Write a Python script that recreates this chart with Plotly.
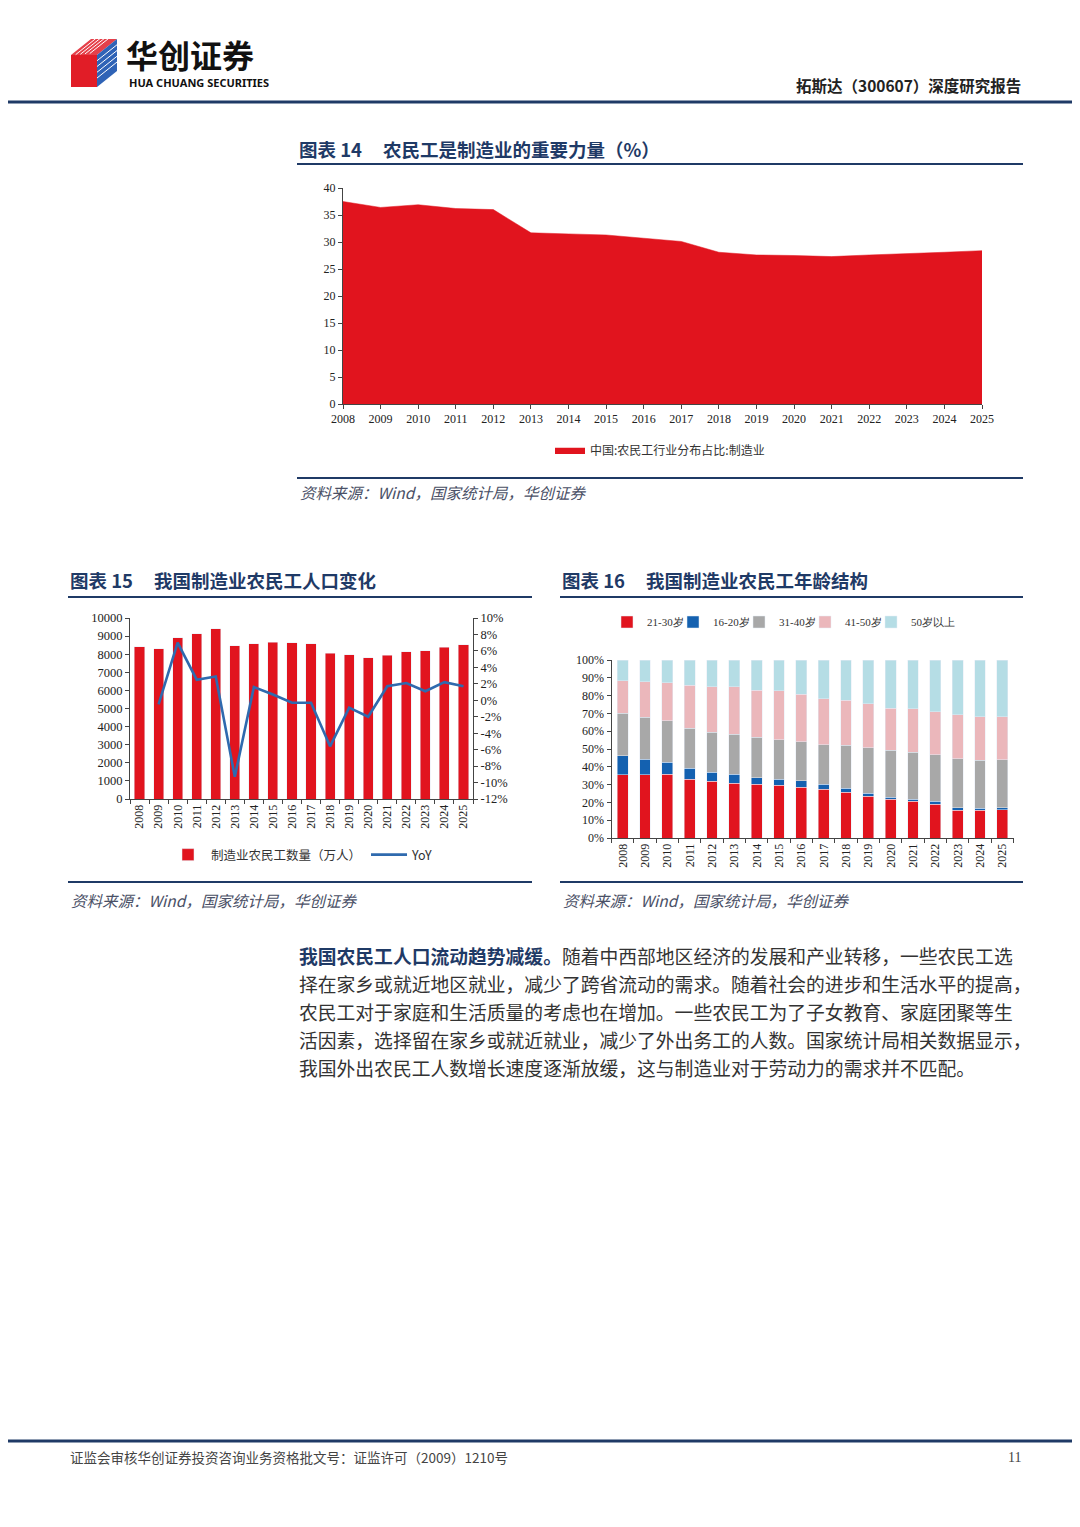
import plotly.graph_objects as go

# 页面在浏览器中有 8px 的 body 边距，图形尺寸相应缩小
OFF = 8
W, H = 1080 - 2 * OFF, 1527 - 2 * OFF

RED = "#E1141E"
NAVY = "#1F3A66"
CJK = "Noto Sans CJK SC"
SERIF = "Liberation Serif"
NB = "\u00a0"

years = [str(y) for y in range(2008, 2026)]
years_num = list(range(2008, 2026))

# 图表14 中国:农民工行业分布占比:制造业 (%)
share_mfg = [37.5, 36.4, 36.9, 36.2, 36.0, 31.7, 31.5, 31.3, 30.7, 30.1,
             28.1, 27.6, 27.5, 27.3, 27.6, 27.8, 28.1, 28.4]

# 图表15 制造业农民工数量(万人) 与 YoY(%)
workers = [8420, 8310, 8920, 9130, 9410, 8460, 8590, 8660, 8630, 8590,
           8050, 7980, 7810, 7940, 8130, 8200, 8390, 8520]
yoy = [None, -0.5, 7.0, 2.5, 2.9, -9.3, 1.6, 0.7, -0.3, -0.3,
       -5.6, -0.9, -2.0, 1.7, 2.1, 1.1, 2.2, 1.7]
yoy_ticks = [-12, -10, -8, -6, -4, -2, 0, 2, 4, 6, 8, 10]
yoy_labels = ["-12%", "-10%", "-8%", "-6%", "-4%", "-2%", "0%", "2%", "4%", "6%", "8%", "10%"]

# 图表16 年龄结构 (%)
age_21_30 = [35.5, 35.5, 35.9, 32.9, 32.0, 30.7, 30.3, 29.5, 28.6, 27.5,
             25.8, 23.4, 21.9, 20.7, 19.1, 15.5, 15.5, 15.9]
age_16_20 = [10.7, 8.8, 6.7, 6.2, 5.0, 5.0, 3.5, 3.6, 3.5, 2.8,
             2.2, 1.8, 1.1, 1.2, 1.5, 1.5, 1.3, 1.1]
age_31_40 = [23.9, 23.6, 23.2, 22.6, 22.3, 22.6, 22.8, 22.0, 21.9, 22.0,
             24.1, 25.6, 26.3, 26.3, 26.3, 27.5, 26.9, 27.1]
age_41_50 = [18.3, 20.0, 21.5, 24.1, 25.7, 26.6, 26.4, 27.5, 26.7, 26.0,
             25.3, 24.5, 23.6, 24.3, 24.1, 24.8, 24.5, 24.1]
age_50_up = [11.6, 12.1, 12.7, 14.2, 15.0, 15.1, 17.0, 17.4, 19.3, 21.7,
             22.6, 24.7, 27.1, 27.5, 29.0, 30.7, 31.8, 31.8]

age_names = ["21-30岁", "16-20岁", "31-40岁", "41-50岁", "50岁以上"]
age_colors = [RED, "#1461B0", "#A8A8A8", "#EBB7BB", "#B5DDE5"]

paragraph = [
    "<b><span style='color:#1F3A66'>我国农民工人口流动趋势减缓。</span></b>随着中西部地区经济的发展和产业转移，一些农民工选",
    "择在家乡或就近地区就业，减少了跨省流动的需求。随着社会的进步和生活水平的提高，",
    "农民工对于家庭和生活质量的考虑也在增加。一些农民工为了子女教育、家庭团聚等生",
    "活因素，选择留在家乡或就近就业，减少了外出务工的人数。国家统计局相关数据显示，",
    "我国外出农民工人数增长速度逐渐放缓，这与制造业对于劳动力的需求并不匹配。",
]
source = "<i>资料来源：Wind，国家统计局，华创证券</i>"


def px(x):
    return (x - OFF) / W


def py(y):
    return 1 - (y - OFF) / H


def path(points):
    pts = [f"{px(x):.5f},{py(y):.5f}" for x, y in points]
    return "M " + " L ".join(pts) + " Z"


fig = go.Figure()

# 图表14 面积图
fig.add_trace(go.Scatter(
    x=years_num, y=share_mfg, mode="lines", fill="tozeroy",
    line=dict(color=RED, width=0.5), fillcolor=RED,
    name="中国:农民工行业分布占比:制造业", legend="legend",
    xaxis="x", yaxis="y"))

# 图表15 柱+线
fig.add_trace(go.Bar(
    x=years, y=workers, marker_color=RED, width=0.53,
    name="制造业农民工数量（万人）", legend="legend2",
    xaxis="x2", yaxis="y2"))
fig.add_trace(go.Scatter(
    x=years, y=yoy, mode="lines", line=dict(color="#2F6AAE", width=2.6),
    name="YoY", legend="legend2", xaxis="x2", yaxis="y3"))

# 图表16 堆积柱（每个图例项单独一个图例，便于紧凑排列）
age_series = [age_21_30, age_16_20, age_31_40, age_41_50, age_50_up]
for i, (name, vals, col) in enumerate(zip(age_names, age_series, age_colors)):
    fig.add_trace(go.Bar(
        x=years, y=vals, marker_color=col, width=0.48, name=name,
        legend=f"legend{i + 3}", xaxis="x3", yaxis="y4"))

ax = dict(showline=True, linecolor="#444", linewidth=1, ticks="outside",
          ticklen=4, tickcolor="#444", showgrid=False, zeroline=False,
          tickfont=dict(family=SERIF, size=12, color="#222"), fixedrange=True)

fig.update_layout(
    width=W, height=H, margin=dict(l=0, r=0, t=0, b=0, autoexpand=False),
    paper_bgcolor="white", plot_bgcolor="white",
    barmode="stack", showlegend=True,
    xaxis=dict(ax, domain=[px(343), px(982)], range=[2008, 2025], dtick=1,
               tick0=2008, anchor="y"),
    yaxis=dict(ax, domain=[py(404), py(188)], range=[0, 40], dtick=5, anchor="x"),
    xaxis2=dict(ax, domain=[px(130), px(473)], type="category", tickangle=-90,
                tickson="boundaries", anchor="y2"),
    yaxis2=dict(ax, domain=[py(799), py(618)], range=[0, 10000], dtick=1000,
                tickformat="d", anchor="x2",
                tickfont=dict(family=SERIF, size=12.5, color="#222")),
    yaxis3=dict(ax, overlaying="y2", side="right", range=[-12, 10],
                tickvals=yoy_ticks, ticktext=yoy_labels, anchor="x2",
                tickfont=dict(family=SERIF, size=12.5, color="#222")),
    xaxis3=dict(ax, domain=[px(611.5), px(1013.5)], type="category", tickangle=-90,
                tickson="boundaries", anchor="y4"),
    yaxis4=dict(ax, domain=[py(838), py(660)], range=[0, 100], dtick=10,
                ticksuffix="%", anchor="x3"),
    legend=dict(x=px(660), y=py(450), xanchor="center", yanchor="middle",
                orientation="h", font=dict(family=CJK, size=12, color="#333"),
                bgcolor="rgba(0,0,0,0)", itemwidth=30),
    legend2=dict(x=px(302), y=py(855), xanchor="center", yanchor="middle",
                 orientation="h", traceorder="normal",
                 font=dict(family=CJK, size=12.5, color="#333"),
                 bgcolor="rgba(0,0,0,0)", itemwidth=36),
)

for i, lx in enumerate([607, 673, 739, 805, 871]):
    fig.update_layout({f"legend{i + 3}": dict(
        x=px(lx), y=py(622), xanchor="left", yanchor="middle", orientation="h",
        font=dict(family=SERIF, size=11, color="#333"),
        bgcolor="rgba(0,0,0,0)", itemwidth=30)})

shapes = []
annotations = []


def hline(x0, x1, y, color=NAVY, width=2):
    shapes.append(dict(type="line", xref="paper", yref="paper", x0=px(x0), x1=px(x1),
                       y0=py(y), y1=py(y), line=dict(color=color, width=width)))


def text(x, y, s, size, color="#222", family=CJK, xanchor="left"):
    annotations.append(dict(x=px(x), y=py(y), xref="paper", yref="paper", text=s,
                            showarrow=False, xanchor=xanchor, yanchor="middle",
                            font=dict(family=family, size=size, color=color)))


# 页眉
shapes.append(dict(type="path", xref="paper", yref="paper",
                   path=path([(71, 55), (91, 39), (117, 39), (97, 55)]),
                   fillcolor="#E5404A", line=dict(width=0)))
shapes.append(dict(type="path", xref="paper", yref="paper",
                   path=path([(71, 55), (97, 55), (97, 87), (71, 87)]),
                   fillcolor="#E11D27", line=dict(width=0)))
shapes.append(dict(type="path", xref="paper", yref="paper",
                   path=path([(97, 55), (117, 39), (117, 71), (97, 87)]),
                   fillcolor="#2F63B6", line=dict(width=0)))
for k in range(1, 5):
    off = k * 3.6
    shapes.append(dict(type="line", xref="paper", yref="paper",
                       x0=px(71 + off * 1.3), y0=py(55 - off * 0.1),
                       x1=px(91 + off * 1.3), y1=py(39 - off * 0.1),
                       line=dict(color="white", width=1)))
    shapes.append(dict(type="line", xref="paper", yref="paper",
                       x0=px(97), y0=py(55 + off * 1.6),
                       x1=px(117), y1=py(39 + off * 1.6),
                       line=dict(color="white", width=1)))
text(124, 54, "<b>华创证券</b>", 32, color="#111")
text(127, 82.5, "<b>HUA CHUANG SECURITIES</b>", 11, color="#111", family="Noto Sans")
text(1023, 85, "<b>拓斯达（300607）深度研究报告</b>", 15.5, color="#222", xanchor="right")
hline(0, 1080, 102, color=NAVY, width=3)

# 图表14 标题与来源
text(297, 149, f"<b>图表 14{NB * 5}农民工是制造业的重要力量（%）</b>", 18.5, color=NAVY)
hline(297, 1023, 164)
hline(297, 1023, 478)
text(298, 492, source, 15.5, color="#4A5066")

# 图表15 标题与来源
text(68, 580, f"<b>图表 15{NB * 5}我国制造业农民工人口变化</b>", 18.5, color=NAVY)
hline(68, 532, 597)
hline(68, 532, 882)
text(69, 900, source, 15.5, color="#4A5066")

# 图表16 标题与来源
text(560, 580, f"<b>图表 16{NB * 5}我国制造业农民工年龄结构</b>", 18.5, color=NAVY)
hline(560, 1023, 597)
hline(560, 1023, 882)
text(561, 900, source, 15.5, color="#4A5066")

# 正文
for i, line in enumerate(paragraph):
    text(297, 955 + i * 28.2, line, 18.8, color="#333")

# 页脚
hline(0, 1080, 1441, color=NAVY, width=3)
text(68, 1457, "证监会审核华创证券投资咨询业务资格批文号：证监许可（2009）1210号", 13.5, color="#444")
text(1023, 1457, "11", 14, color="#444", family=SERIF, xanchor="right")

fig.update_layout(shapes=shapes, annotations=annotations)

fig.write_html("out.html")
